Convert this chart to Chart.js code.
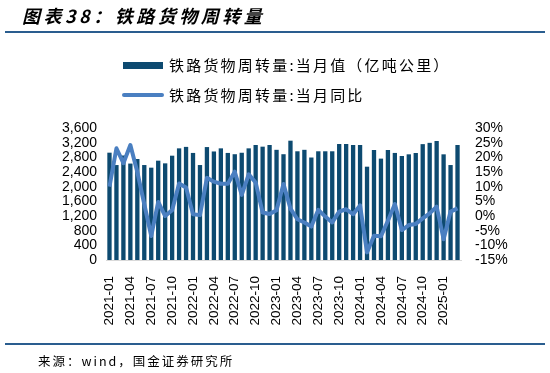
<!DOCTYPE html>
<html><head><meta charset="utf-8">
<script src="https://cdn.jsdelivr.net/npm/chart.js@4/dist/chart.umd.min.js"></script>
<style>
html,body{margin:0;padding:0;background:#fff;}
#wrap{position:relative;width:550px;height:373px;overflow:hidden;}
#c{position:absolute;left:0;top:0;}
.title{position:absolute;left:22px;top:2px;font:italic bold 18px "Noto Sans CJK SC";letter-spacing:3.5px;color:#000;white-space:nowrap;}
.rule{position:absolute;left:5px;width:540px;height:2px;background:#2A5D8F;}
.foot{position:absolute;left:38px;top:351px;font:12.5px "Noto Sans CJK SC";letter-spacing:2px;color:#000;white-space:nowrap;}
</style></head>
<body>
<div id="wrap">
<canvas id="c" width="550" height="373"></canvas>
<div class="title">图表38：铁路货物周转量</div>
<div class="rule" style="top:31px"></div>
<div class="rule" style="top:343px"></div>
<div class="foot">来源：wind，国金证券研究所</div>
</div>
<script>
const months = ['2021-01','2021-02','2021-03','2021-04','2021-05','2021-06','2021-07','2021-08','2021-09','2021-10','2021-11','2021-12',
'2022-01','2022-02','2022-03','2022-04','2022-05','2022-06','2022-07','2022-08','2022-09','2022-10','2022-11','2022-12',
'2023-01','2023-02','2023-03','2023-04','2023-05','2023-06','2023-07','2023-08','2023-09','2023-10','2023-11','2023-12',
'2024-01','2024-02','2024-03','2024-04','2024-05','2024-06','2024-07','2024-08','2024-09','2024-10','2024-11','2024-12',
'2025-01','2025-02','2025-03'];
const monthlyValue = [2927,2590,2850,2630,2754,2590,2518,2709,2636,2845,3045,3085,
2920,2590,3080,2960,3045,2920,2885,2925,3045,3136,3091,3136,
3005,2885,3254,2965,3005,2795,2965,2965,2965,3163,3163,3136,
3136,2545,3000,2765,3000,2920,2836,2882,2918,3160,3195,3245,
2882,2590,3136];
const yoyPct = [10,23.1,18,24.2,15,4,-6.8,4.8,0,2,11.1,9.7,
0.6,0.3,13,11.7,11,11,15.1,7.2,14.2,11.4,1.2,0.7,
2.0,10.9,2.5,-1.1,-2.2,-3.6,2.1,-0.2,-2.2,1.5,2.3,0.6,
3.6,-12.4,-6.7,-6.9,-1.6,4.1,-4.8,-3.1,-2.7,-0.8,0.9,3.2,
-7.9,1.5,2.6];
const leftTicks = [0,400,800,1200,1600,2000,2400,2800,3200,3600];
const rightTicks = [-15,-10,-5,0,5,10,15,20,25,30];
const seriesNames = ['铁路货物周转量:当月值（亿吨公里）','铁路货物周转量:当月同比'];

const BAR = '#0D4A70', LINE = '#4A7FC1';

const legendPlugin = {
  id: 'stackLegend',
  afterDraw(chart) {
    const ctx = chart.ctx;
    ctx.save();
    ctx.font = '15px "Noto Sans CJK SC"';
    ctx.letterSpacing = '2.2px';
    ctx.textBaseline = 'middle';
    ctx.fillStyle = BAR;
    ctx.fillRect(123, 62, 40, 7);
    ctx.fillStyle = '#000';
    ctx.fillText(chart.data.datasets[1].label, 169, 65.5);
    ctx.strokeStyle = LINE;
    ctx.lineWidth = 4;
    ctx.lineCap = 'round';
    ctx.beginPath(); ctx.moveTo(124, 95); ctx.lineTo(162, 95); ctx.stroke();
    ctx.fillText(chart.data.datasets[0].label, 169, 95);
    ctx.restore();
  }
};

const tickFont = {family: '"Liberation Sans", Arial', size: 14};

new Chart(document.getElementById('c'), {
  data: {
    labels: months,
    datasets: [
      {type:'line', label: seriesNames[1], data: yoyPct, yAxisID:'y1', borderColor: LINE, borderWidth: 4,
       pointRadius: 0, tension: 0, borderJoinStyle:'round', order: 0},
      {type:'bar', label: seriesNames[0], data: monthlyValue, yAxisID:'y', backgroundColor: BAR,
       categoryPercentage: 1, barPercentage: 0.62, order: 1}
    ]
  },
  options: {
    responsive: false, animation: false,
    layout: {padding: {top: 128, left: 0, right: 0, bottom: 0}},
    plugins: {legend: {display: false}, tooltip: {enabled: false}, title: {display: false}},
    scales: {
      x: {
        offset: true,
        grid: {display: false, drawTicks: false},
        border: {display: true, color: '#D9D9D9', width: 1},
        ticks: {autoSkip: false, maxRotation: 90, minRotation: 90, padding: 16, color: '#000',
          font: {family: '"Liberation Sans", Arial', size: 13.5},
          callback: function(v, i){ return i % 3 === 0 ? months[i] : ''; }},
        afterFit(s){ s.height = 113; }
      },
      y: {
        position: 'left', min: leftTicks[0], max: leftTicks[leftTicks.length-1],
        grid: {display: false, drawTicks: false}, border: {display: false},
        afterBuildTicks(s){ s.ticks = leftTicks.map(v => ({value: v})); },
        ticks: {autoSkip: false, padding: 9, color: '#000', font: tickFont, callback: v => v.toLocaleString('en-US')},
        afterFit(s){ s.width = 106; }
      },
      y1: {
        position: 'right', min: rightTicks[0], max: rightTicks[rightTicks.length-1],
        grid: {display: false, drawTicks: false}, border: {display: false},
        afterBuildTicks(s){ s.ticks = rightTicks.map(v => ({value: v})); },
        ticks: {autoSkip: false, padding: 14, color: '#000', font: tickFont, callback: v => v + '%'},
        afterFit(s){ s.width = 89; }
      }
    }
  },
  plugins: [legendPlugin]
});
</script>
</body></html>
